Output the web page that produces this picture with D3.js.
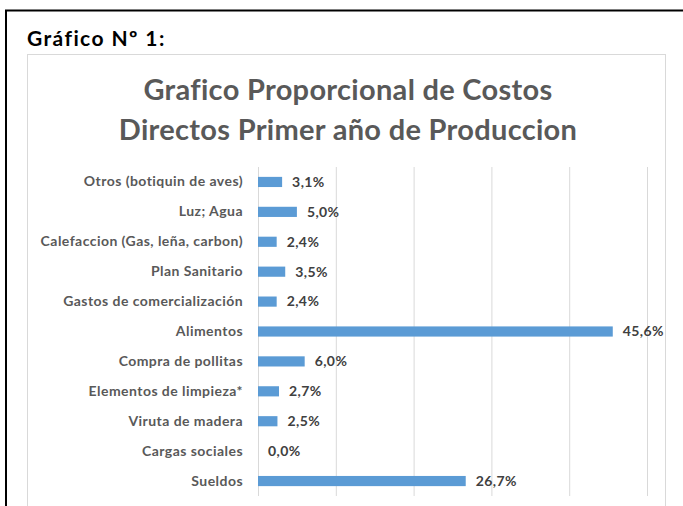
<!DOCTYPE html>
<html>
<head>
<meta charset="utf-8">
<script src="https://cdn.jsdelivr.net/npm/d3@7"></script>
<style>
  body { margin: 0; background: #fff; }
  svg { display: block; font-family: Lato, "Open Sans", sans-serif; }
</style>
</head>
<body>
<div id="canvas"></div>
<script>
"use strict";

let svgWidth = 683;
let svgHeight = 506;
let margin = { top: 167, right: 36, bottom: 10, left: 258 };

/* === Data === */
let categories = [
  "Otros (botiquin de aves)",
  "Luz; Agua",
  "Calefaccion (Gas, leña, carbon)",
  "Plan Sanitario",
  "Gastos de comercialización",
  "Alimentos",
  "Compra de pollitas",
  "Elementos de limpieza*",
  "Viruta de madera",
  "Cargas sociales",
  "Sueldos"
];
let shares = [3.1, 5.0, 2.4, 3.5, 2.4, 45.6, 6.0, 2.7, 2.5, 0.0, 26.7]; // percent
let xTicks = [0, 10, 20, 30, 40, 50];

let rows = categories.map((c, i) => ({ name: c, value: shares[i] }));

let svg = d3.select("#canvas")
  .append("svg")
  .attr("width", svgWidth)
  .attr("height", svgHeight);

/* === Frames === */
svg.append("path")
  .attr("d", `M6,${svgHeight} V10.5 H${svgWidth}`)
  .attr("fill", "none")
  .attr("stroke", "#000")
  .attr("stroke-width", 2);

svg.append("rect")
  .attr("x", 27.5)
  .attr("y", 54.5)
  .attr("width", 638)
  .attr("height", 480)
  .attr("fill", "#fff")
  .attr("stroke", "#d9d9d9");

svg.append("text")
  .attr("x", 27)
  .attr("y", 46)
  .attr("font-size", "21px")
  .attr("font-weight", "bold")
  .attr("letter-spacing", "1.4px")
  .attr("fill", "#000")
  .text("Gráfico Nº 1:");

/* === Title === */
let title = svg.append("text")
  .attr("text-anchor", "middle")
  .attr("font-size", "29px")
  .attr("font-weight", "bold")
  .attr("letter-spacing", "0.3px")
  .attr("fill", "#595959");
title.append("tspan").attr("x", 348).attr("y", 100).text("Grafico Proporcional de Costos");
title.append("tspan").attr("x", 348).attr("y", 140).text("Directos Primer año de Produccion");

/* === Scales === */
let xScale = d3.scaleLinear()
  .domain([0, 50])
  .range([margin.left, 647]);

let yScale = d3.scaleBand()
  .domain(categories)
  .range([margin.top, 496])
  .paddingInner(0.66)
  .paddingOuter(0.33);

/* === Gridlines === */
let grid = svg.append("g")
  .attr("transform", `translate(0, 496)`)
  .call(d3.axisBottom(xScale).tickValues(xTicks).tickSize(-(496 - margin.top)).tickFormat(""));
grid.select(".domain").remove();
grid.selectAll("line").attr("stroke", "#d9d9d9");

/* === Category axis === */
let yAxis = svg.append("g")
  .attr("transform", `translate(${margin.left}, 0)`)
  .call(d3.axisLeft(yScale).tickSize(0).tickPadding(15));
yAxis.select(".domain").remove();
yAxis.selectAll("text")
  .attr("font-size", "14px")
  .attr("font-weight", "bold")
  .attr("letter-spacing", "0.45px")
  .attr("fill", "#595959")
  .attr("font-family", "Lato, sans-serif");

/* === Bars === */
svg.selectAll("rect.bar")
  .data(rows)
  .enter()
  .append("rect")
  .classed("bar", true)
  .attr("x", xScale(0))
  .attr("y", d => yScale(d.name))
  .attr("width", d => xScale(d.value) - xScale(0))
  .attr("height", yScale.bandwidth())
  .attr("fill", "#5b9bd5");

/* === Value labels === */
svg.selectAll("text.val")
  .data(rows)
  .enter()
  .append("text")
  .classed("val", true)
  .attr("x", d => xScale(d.value) + 10)
  .attr("y", d => yScale(d.name) + yScale.bandwidth() / 2)
  .attr("dy", "0.35em")
  .attr("font-size", "14px")
  .attr("font-weight", "bold")
  .attr("letter-spacing", "0.4px")
  .attr("fill", "#404040")
  .text(d => d.value.toFixed(1).replace(".", ",") + "%");
</script>
</body>
</html>
